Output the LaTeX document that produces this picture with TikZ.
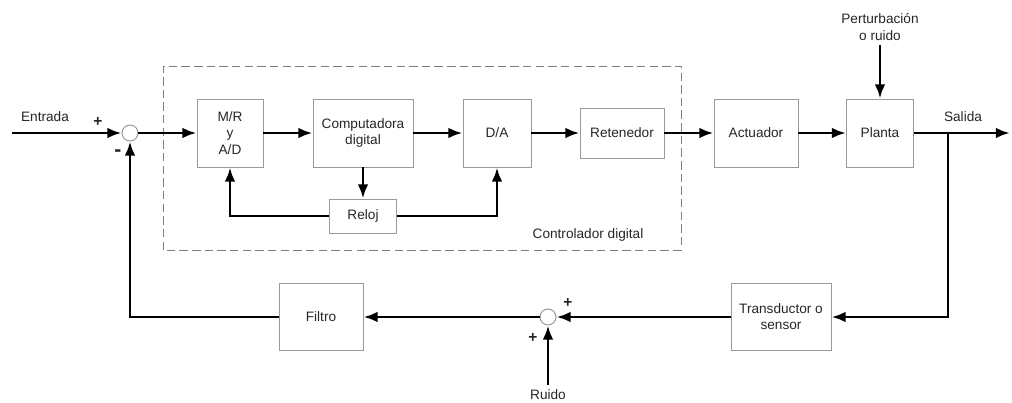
\documentclass[tikz,border=0pt]{standalone}
\usepackage{fontspec}
\setmainfont{Liberation Sans}
\usetikzlibrary{arrows.meta}
\tikzset{
    bloque/.style={draw=gray!80, line width=0.7pt, align=center, inner sep=2pt},
    suma/.style={circle, draw=gray!80, line width=0.7pt, fill=white, minimum size=0.4cm, inner sep=0pt},
    senal/.style={line width=1.9pt},
    signo/.style={font=\bfseries\fontsize{11}{12}\selectfont}
}
\begin{document}
\begin{tikzpicture}[>={Latex[length=10pt,width=7.5pt]}, font=\fontsize{9.7}{11.5}\selectfont, text=black!85]
                    \useasboundingbox (0,0) rectangle (25.3,10.075);
                    % Controlador digital
                    \draw[gray, line width=0.7pt, dash pattern=on 6pt off 3pt] (4.075,3.825) rectangle (17.025,8.425);
                    \node (ctrl) at (14.7,4.2) {Controlador digital};
                    \node[bloque, minimum width=1.65cm, minimum height=1.7cm] (mr) at (5.75,6.75) {M/R\\y\\A/D};
                    \node[bloque, minimum width=2.5cm, minimum height=1.7cm] (comp) at (9.075,6.75) {Computadora\\digital};
                    \node[bloque, minimum width=1.7cm, minimum height=1.7cm] (da) at (12.425,6.75) {D/A};
                    \node[bloque, minimum width=1.675cm, minimum height=0.85cm] (reloj) at (9.075,4.675) {Reloj};
                    \node[bloque, minimum width=2.1cm, minimum height=1.25cm] (ret) at (15.55,6.75) {Retenedor};
                    % Lazo directo
                    \node[suma] (s1) at (3.25,6.75) {};
                    \node[bloque, minimum width=2.1cm, minimum height=1.7cm] (act) at (18.9,6.75) {Actuador};
                    \node[bloque, minimum width=1.675cm, minimum height=1.7cm] (planta) at (22.0,6.75) {Planta};
                    \node[align=center] (pert) at (22.0,9.4) {Perturbación\\o ruido};
                    % Lazo de realimentacion
                    \node[bloque, minimum width=2.5cm, minimum height=1.675cm] (trans) at (19.525,2.15) {Transductor o\\sensor};
                    \node[suma] (s2) at (13.7,2.15) {};
                    \node[bloque, minimum width=2.1cm, minimum height=1.675cm] (filtro) at (8.025,2.15) {Filtro};
                    \node (ruido) at (13.7,0.2) {Ruido};
                    % Entrada y salida
                    \coordinate (ent) at (0.3,6.75);
                    \coordinate (sal) at (25.25,6.75);
                    \coordinate (rama) at (23.7,6.75);
                    \node (entlbl) at (1.125,7.15) {Entrada};
                    \node (sallbl) at (24.075,7.15) {Salida};
                    % Signos
                    \node[signo] at (2.45,7.03) {+};
                    \node[signo, font=\bfseries\fontsize{15}{16}\selectfont] at (2.95,6.25) {-};
                    \node[signo] at (14.2,2.5) {+};
                    \node[signo] at (13.325,1.625) {+};
                    % Flechas
                    \draw[->, senal] (ent) -- (s1.west);
                    \draw[->, senal] (s1.east) -- (mr.west);
                    \draw[->, senal] (mr.east) -- (comp.west);
                    \draw[->, senal] (comp.east) -- (da.west);
                    \draw[->, senal] (da.east) -- (ret.west);
                    \draw[->, senal] (ret.east) -- (act.west);
                    \draw[->, senal] (act.east) -- (planta.west);
                    \draw[->, senal] (pert.south) -- (planta.north);
                    \draw[->, senal] (planta.east) -- (sal);
                    \draw[->, senal] (comp.south) -- (reloj.north);
                    \draw[->, senal] (reloj.west) -| (mr.south);
                    \draw[->, senal] (reloj.east) -| (da.south);
                    \draw[->, senal] (rama) |- (trans.east);
                    \draw[->, senal] (trans.west) -- (s2.east);
                    \draw[->, senal] (ruido.north) -- (s2.south);
                    \draw[->, senal] (s2.west) -- (filtro.east);
                    \draw[->, senal] (filtro.west) -| (s1.south);
                \end{tikzpicture}
\end{document}
